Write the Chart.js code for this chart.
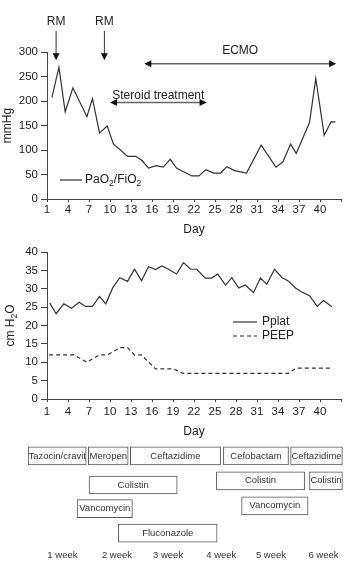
<!DOCTYPE html>
<html>
<head>
<meta charset="utf-8">
<script src="https://cdn.jsdelivr.net/npm/chart.js@4.4.0/dist/chart.umd.min.js"></script>
<style>
body { margin: 0; background: #fff; }
canvas { display: block; }
</style>
</head>
<body>
<canvas id="pfChart" width="346" height="240"></canvas>
<canvas id="pressChart" width="346" height="200"></canvas>
<canvas id="drugChart" width="346" height="122"></canvas>
<script>
// day axis
const xTickDays = [1, 4, 7, 10, 13, 16, 19, 22, 25, 28, 31, 34, 37, 40, 43];
const xTickLabels = ['1', '4', '7', '10', '13', '16', '19', '22', '25', '28', '31', '34', '37', '40', ''];

// PaO2/FiO2 (mmHg)
const pfDays = [1.7, 2.7, 3.6, 4.7, 6.7, 7.5, 8.5, 9.6, 10.5, 11.5, 12.5, 13.7, 14.6, 15.5, 16.6, 17.6, 18.6, 19.5,
  21.7, 22.7, 23.7, 24.8, 25.8, 26.7, 27.8, 29.5, 31.6, 33.7, 34.7, 35.8, 36.6, 38.5, 39.4, 40.6, 41.6, 42.2];
const pfValues = [207, 269, 178, 227, 168, 205, 135, 149, 112, 100, 87, 87, 78, 63, 68, 65, 81, 63,
  47, 47, 60, 53, 53, 66, 58, 53, 110, 65, 76, 112, 93, 156, 246, 130, 158, 157];

// Pplat and PEEP (cm H2O)
const pplatDays = [1.4, 2.3, 3.4, 4.5, 5.6, 6.5, 7.5, 8.5, 9.4, 10.4, 11.4, 12.5, 13.5, 14.5, 15.5, 16.5, 17.4, 18.3, 19.5, 20.5,
  21.5, 22.4, 23.6, 24.5, 25.4, 26.5, 27.4, 28.4, 29.3, 30.5, 31.5, 32.4, 33.5, 34.6, 35.4, 36.5, 37.4, 38.5, 39.6, 40.5, 41.7];
const pplatValues = [26.1, 23.2, 25.9, 24.7, 26.3, 25.2, 25.2, 27.9, 25.9, 30.3, 33, 32, 35.3, 32.2, 36, 35.2, 36.2, 35.4, 34, 37.1,
  35.3, 35.3, 32.9, 32.9, 34, 31, 33, 30.2, 31, 29, 32.9, 31.2, 35.3, 33, 32.2, 30.2, 29.1, 28.1, 25.2, 26.8, 25.1];
const peepDays = [1.3, 4.8, 6.7, 8.5, 9.6, 11.5, 12.5, 13.5, 14.5, 16.5, 19.1, 20.4, 35.5, 36.6, 41.7];
const peepValues = [12, 12, 10, 12, 12, 14, 14, 12, 12, 8.2, 8.2, 7, 7, 8.4, 8.4];

// events (days)
const rmDays = [2.3, 9.2];
const steroidSpan = [10, 23.8];
const ecmoSpan = [14.9, 42.3];

// drug courses
const drugs = ['Tazocin/cravit', 'Meropen', 'Ceftazidime', 'Cefobactam', 'Ceftazidime', 'Colistin', 'Colistin', 'Colistin',
  'Vancomycin', 'Vancomycin', 'Fluconazole'];
const drugStart = [-1.7, 6.9, 12.9, 26.2, 35.8, 7.0, 25.2, 38.5, 5.3, 28.8, 11.2];
const drugEnd = [6.6, 12.6, 25.8, 35.5, 43.2, 19.6, 37.8, 43.2, 13.2, 38.3, 25.3];
const drugRow = [1, 1, 1, 1, 1, 2.13, 1.97, 1.97, 3.05, 2.94, 4];
const weekDays = [3.2, 11, 18.3, 25.9, 33, 40.5];
const weekLabels = ['1 week', '2 week', '3 week', '4 week', '5 week', '6 week'];

const FONT = '"Liberation Sans", Arial, sans-serif';
Chart.defaults.font.family = FONT;
Chart.defaults.color = '#222';

const toXY = (xs, ys) => xs.map((x, i) => ({x: x, y: ys[i]}));

// text with subscript parts: runs = [[text, isSub], ...]
function drawRuns(ctx, runs, x, y, size) {
  let cx = x;
  runs.forEach(([t, sub]) => {
    ctx.font = (sub ? size * 0.72 : size) + 'px ' + FONT;
    ctx.fillText(t, cx, sub ? y + size * 0.32 : y);
    cx += ctx.measureText(t).width;
  });
}
function runsWidth(ctx, runs, size) {
  let w = 0;
  runs.forEach(([t, sub]) => {
    ctx.font = (sub ? size * 0.72 : size) + 'px ' + FONT;
    w += ctx.measureText(t).width;
  });
  return w;
}

function head(ctx, x, y, dx, dy) {
  // filled arrow head, tip at (x, y), pointing along (dx, dy)
  const len = 7, hw = 3.5;
  ctx.beginPath();
  ctx.moveTo(x, y);
  ctx.lineTo(x - dx * len - dy * hw, y - dy * len + dx * hw);
  ctx.lineTo(x - dx * len + dy * hw, y - dy * len - dx * hw);
  ctx.closePath();
  ctx.fill();
}

function dayAxis(tickPad, titlePad, showTitle) {
  return {
    type: 'linear',
    min: 1,
    max: 43,
    afterBuildTicks: s => { s.ticks = xTickDays.map(v => ({value: v})); },
    afterFit: s => { s.height = 41; },
    ticks: {
      callback: (v, i) => xTickLabels[i],
      autoSkip: false,
      maxRotation: 0,
      padding: tickPad,
      color: '#222',
      font: {size: 11.5}
    },
    grid: {drawOnChartArea: false, tickLength: 3, color: '#444'},
    border: {color: '#444'},
    title: {display: showTitle, text: 'Day', font: {size: 12}, padding: {top: 0, bottom: titlePad}}
  };
}

const pfNotes = {
  id: 'pfNotes',
  afterDatasetsDraw(chart) {
    const {ctx, scales: {x, y}} = chart;
    ctx.save();
    ctx.fillStyle = '#222';
    ctx.font = '12px ' + FONT;
    ctx.textAlign = 'center';
    ctx.textBaseline = 'middle';
    rmDays.forEach(d => {
      const px = x.getPixelForValue(d);
      ctx.fillStyle = '#222';
      ctx.fillText('RM', px, y.getPixelForValue(362));
      ctx.strokeStyle = '#333';
      ctx.lineWidth = 1;
      const y0 = y.getPixelForValue(343), y1 = y.getPixelForValue(283);
      ctx.beginPath();
      ctx.moveTo(px, y0);
      ctx.lineTo(px, y1 - 5);
      ctx.stroke();
      ctx.fillStyle = '#111';
      head(ctx, px, y1, 0, 1);
    });
    const spans = [[ecmoSpan, 276, 'ECMO', 303], [steroidSpan, 197, 'Steroid treatment', 210]];
    spans.forEach(([span, v, label, tv]) => {
      const x0 = x.getPixelForValue(span[0]), x1 = x.getPixelForValue(span[1]);
      const py = y.getPixelForValue(v);
      ctx.strokeStyle = '#666';
      ctx.lineWidth = 1.5;
      ctx.beginPath();
      ctx.moveTo(x0 + 5, py);
      ctx.lineTo(x1 - 5, py);
      ctx.stroke();
      ctx.fillStyle = '#111';
      head(ctx, x0, py, -1, 0);
      head(ctx, x1, py, 1, 0);
      ctx.fillStyle = '#222';
      ctx.font = '12px ' + FONT;
      ctx.fillText(label, (x0 + x1) / 2, y.getPixelForValue(tv));
    });
    // legend
    ctx.strokeStyle = '#333';
    ctx.lineWidth = 1.2;
    ctx.beginPath();
    ctx.moveTo(60, 180);
    ctx.lineTo(82, 180);
    ctx.stroke();
    ctx.fillStyle = '#222';
    ctx.textAlign = 'left';
    drawRuns(ctx, [['PaO', false], ['2', true], ['/FiO', false], ['2', true]], 85, 180, 12);
    ctx.restore();
  }
};

new Chart(document.getElementById('pfChart'), {
  type: 'line',
  data: {
    datasets: [{
      label: 'PaO2/FiO2',
      data: toXY(pfDays, pfValues),
      borderColor: '#333',
      borderWidth: 1.2,
      pointRadius: 0,
      tension: 0
    }]
  },
  options: {
    responsive: false,
    animation: false,
    layout: {padding: {top: 52, right: 5, left: 0, bottom: 0}},
    plugins: {legend: {display: false}, tooltip: {enabled: false}},
    scales: {
      x: dayAxis(1, 3, true),
      y: {
        min: 0,
        max: 300,
        afterFit: s => { s.width = 47; },
        ticks: {stepSize: 50, color: '#222', font: {size: 11.5}},
        grid: {drawOnChartArea: false, tickLength: 6, color: '#444'},
        border: {color: '#444'},
        title: {display: true, text: 'mmHg', font: {size: 12}, padding: {top: 0, bottom: 0}}
      }
    }
  },
  plugins: [pfNotes]
});

const pressNotes = {
  id: 'pressNotes',
  afterDatasetsDraw(chart) {
    const {ctx, chartArea} = chart;
    ctx.save();
    ctx.fillStyle = '#222';
    ctx.textBaseline = 'middle';
    ctx.textAlign = 'left';
    // y axis title with subscript
    const runs = [['cm H', false], ['2', true], ['O', false]];
    ctx.translate(11, (chartArea.top + chartArea.bottom) / 2);
    ctx.rotate(-Math.PI / 2);
    drawRuns(ctx, runs, -runsWidth(ctx, runs, 12) / 2, 0, 12);
    ctx.setTransform(1, 0, 0, 1, 0, 0);
    // legend
    ctx.strokeStyle = '#333';
    ctx.lineWidth = 1.2;
    ctx.beginPath();
    ctx.moveTo(233, 82);
    ctx.lineTo(257, 82);
    ctx.stroke();
    ctx.setLineDash([4, 3]);
    ctx.beginPath();
    ctx.moveTo(233, 96);
    ctx.lineTo(257, 96);
    ctx.stroke();
    ctx.setLineDash([]);
    ctx.font = '12px ' + FONT;
    ctx.fillText('Pplat', 262, 82);
    ctx.fillText('PEEP', 262, 96);
    ctx.restore();
  }
};

new Chart(document.getElementById('pressChart'), {
  type: 'line',
  data: {
    datasets: [{
      label: 'Pplat',
      data: toXY(pplatDays, pplatValues),
      borderColor: '#333',
      borderWidth: 1.2,
      pointRadius: 0,
      tension: 0
    }, {
      label: 'PEEP',
      data: toXY(peepDays, peepValues),
      borderColor: '#333',
      borderWidth: 1.2,
      borderDash: [4, 3],
      pointRadius: 0,
      tension: 0
    }]
  },
  options: {
    responsive: false,
    animation: false,
    layout: {padding: {top: 12, right: 5, left: 0, bottom: 0}},
    plugins: {legend: {display: false}, tooltip: {enabled: false}},
    scales: {
      x: dayAxis(3, 1, true),
      y: {
        min: 0,
        max: 40,
        afterFit: s => { s.width = 47; },
        ticks: {stepSize: 5, color: '#222', font: {size: 11.5}},
        grid: {drawOnChartArea: false, tickLength: 6, color: '#444'},
        border: {color: '#444'}
      }
    }
  },
  plugins: [pressNotes]
});

const drugLabels = {
  id: 'drugLabels',
  afterDatasetsDraw(chart) {
    const {ctx} = chart;
    const meta = chart.getDatasetMeta(0);
    ctx.save();
    ctx.fillStyle = '#333';
    ctx.font = '9.5px ' + FONT;
    ctx.textAlign = 'center';
    ctx.textBaseline = 'middle';
    meta.data.forEach((bar, i) => {
      const p = bar.getProps(['x', 'y', 'base'], true);
      ctx.fillText(drugs[i], (p.x + p.base) / 2, p.y);
    });
    ctx.restore();
  }
};

new Chart(document.getElementById('drugChart'), {
  type: 'bar',
  data: {
    datasets: [{
      data: drugs.map((d, i) => ({x: [drugStart[i], drugEnd[i]], y: drugRow[i]})),
      backgroundColor: '#fff',
      borderColor: '#555',
      borderWidth: 1,
      borderSkipped: false,
      barThickness: 18,
      clip: false
    }]
  },
  options: {
    indexAxis: 'y',
    responsive: false,
    animation: false,
    layout: {padding: {top: 3, right: 5, left: 47, bottom: 0}},
    plugins: {legend: {display: false}, tooltip: {enabled: false}},
    scales: {
      x: {
        type: 'linear',
        min: 1,
        max: 43,
        afterBuildTicks: s => { s.ticks = weekDays.map(v => ({value: v})); },
        afterFit: s => { s.height = 16; },
        ticks: {callback: (v, i) => weekLabels[i], autoSkip: false, maxRotation: 0, padding: 4, color: '#333', font: {size: 9.5}},
        grid: {display: false, drawTicks: false},
        border: {display: false}
      },
      y: {type: 'linear', min: 0.5, max: 4.5, reverse: true, offset: false, display: false}
    }
  },
  plugins: [drugLabels]
});
</script>
</body>
</html>
